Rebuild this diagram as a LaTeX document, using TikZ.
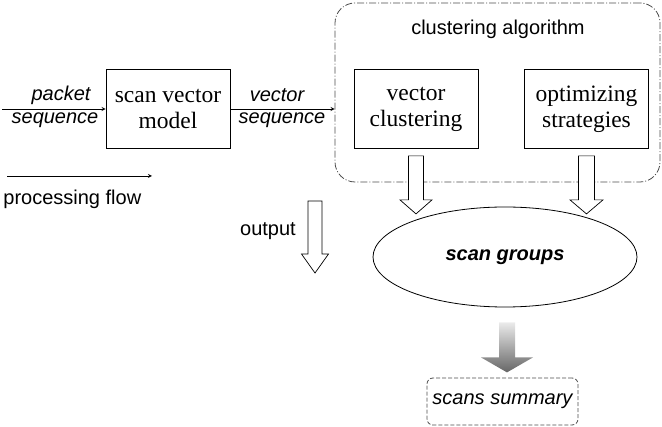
\documentclass[tikz,border=0pt]{standalone}
\usepackage{fontspec}
\newfontfamily\arial{Liberation Sans}
\newfontfamily\timesf{Liberation Serif}
\usetikzlibrary{positioning,shapes.geometric}

\begin{document}
\begin{tikzpicture}[x=1pt, y=-1pt, line width=0.8pt, >=stealth,
    box/.style={draw, minimum width=124pt, minimum height=79pt, align=center, inner sep=2pt,
        font=\timesf\fontsize{23.5}{26}\selectfont},
    sans/.style={font=\arial\fontsize{20}{24}\selectfont, inner sep=0pt},
    lbl/.style={font=\arial\itshape\fontsize{20}{24}\selectfont, inner sep=0pt},
    harrow/.style={draw, fill=white, line width=0.7pt}]
    \useasboundingbox (0,0) rectangle (662,427);

    % Cadre de l'algorithme
    \node[draw=black!70, dash pattern=on 7pt off 2pt on 1pt off 2pt, rounded corners=20pt,
        minimum width=325pt, minimum height=179pt, inner sep=0pt] (algo) at (497.5,92.5) {};
    \node[sans] (algolbl) at (498,29) {clustering algorithm};

    % Boites
    \node[box] (model) at (168,109) {scan vector\\model};
    \node[box] (vclust) at (416,109) {vector\\clustering};
    \node[box] (optim) at (586.5,109) {optimizing\\strategies};

    % Entree
    \coordinate (in) at (2,109);
    \draw[->] (in) -- (model.west);
    \node[lbl] (pkt) at (61,95) {packet};
    \node[lbl] (pktseq) at (55,120) {sequence};

    % Sortie du modele
    \draw[->] (model.east) -- (model.east -| algo.west);
    \node[lbl] (vec) at (277,95) {vector};
    \node[lbl] (vecseq) at (282,120) {sequence};

    % Legende
    \coordinate (pf0) at (7,176);
    \coordinate (pf1) at (152,176);
    \draw[->] (pf0) -- (pf1);
    \node[sans, anchor=west] (pflbl) at (3,199) {processing flow};

    % Groupes
    \node[draw, ellipse, minimum width=264pt, minimum height=100pt,
        font=\arial\bfseries\itshape\fontsize{20}{24}\selectfont] (groups) at (505,257) {scan groups};

    % Fleches creuses
    \draw[harrow] ([yshift=-7pt]vclust.south) ++(-7.5,0) -- ++(15,0) -- ++(0,44) -- ++(8.5,0)
        -- ++(-16,14) -- ++(-16,-14) -- ++(8.5,0) -- cycle;
    \draw[harrow] ([yshift=-7pt]optim.south) ++(-8,0) -- ++(16,0) -- ++(0,44) -- ++(8.5,0)
        -- ++(-16.5,14) -- ++(-16.5,-14) -- ++(8.5,0) -- cycle;

    % Legende sortie
    \node[sans] (outlbl) at (268,231) {output};
    \coordinate (outtop) at (315,201);
    \draw[harrow] (outtop) ++(-7,0) -- ++(14,0) -- ++(0,53) -- ++(6.5,0)
        -- ++(-13.5,19) -- ++(-13.5,-19) -- ++(6.5,0) -- cycle;

    % Resume
    \node[draw=black!70, dashed, dash pattern=on 4pt off 2pt, rounded corners=6pt,
        minimum width=151pt, minimum height=47pt, font=\arial\itshape\fontsize{20}{24}\selectfont]
        (summary) at (502.5,401.5) {scans summary};
    \shade[top color=black!8, bottom color=black!60]
        ([xshift=2pt,yshift=-15pt]groups.south) ++(-8,0) -- ++(16,0) -- ++(0,35) -- ++(18,0)
        -- ++(-26,15) -- ++(-26,-15) -- ++(18,0) -- cycle;
\end{tikzpicture}
\end{document}
